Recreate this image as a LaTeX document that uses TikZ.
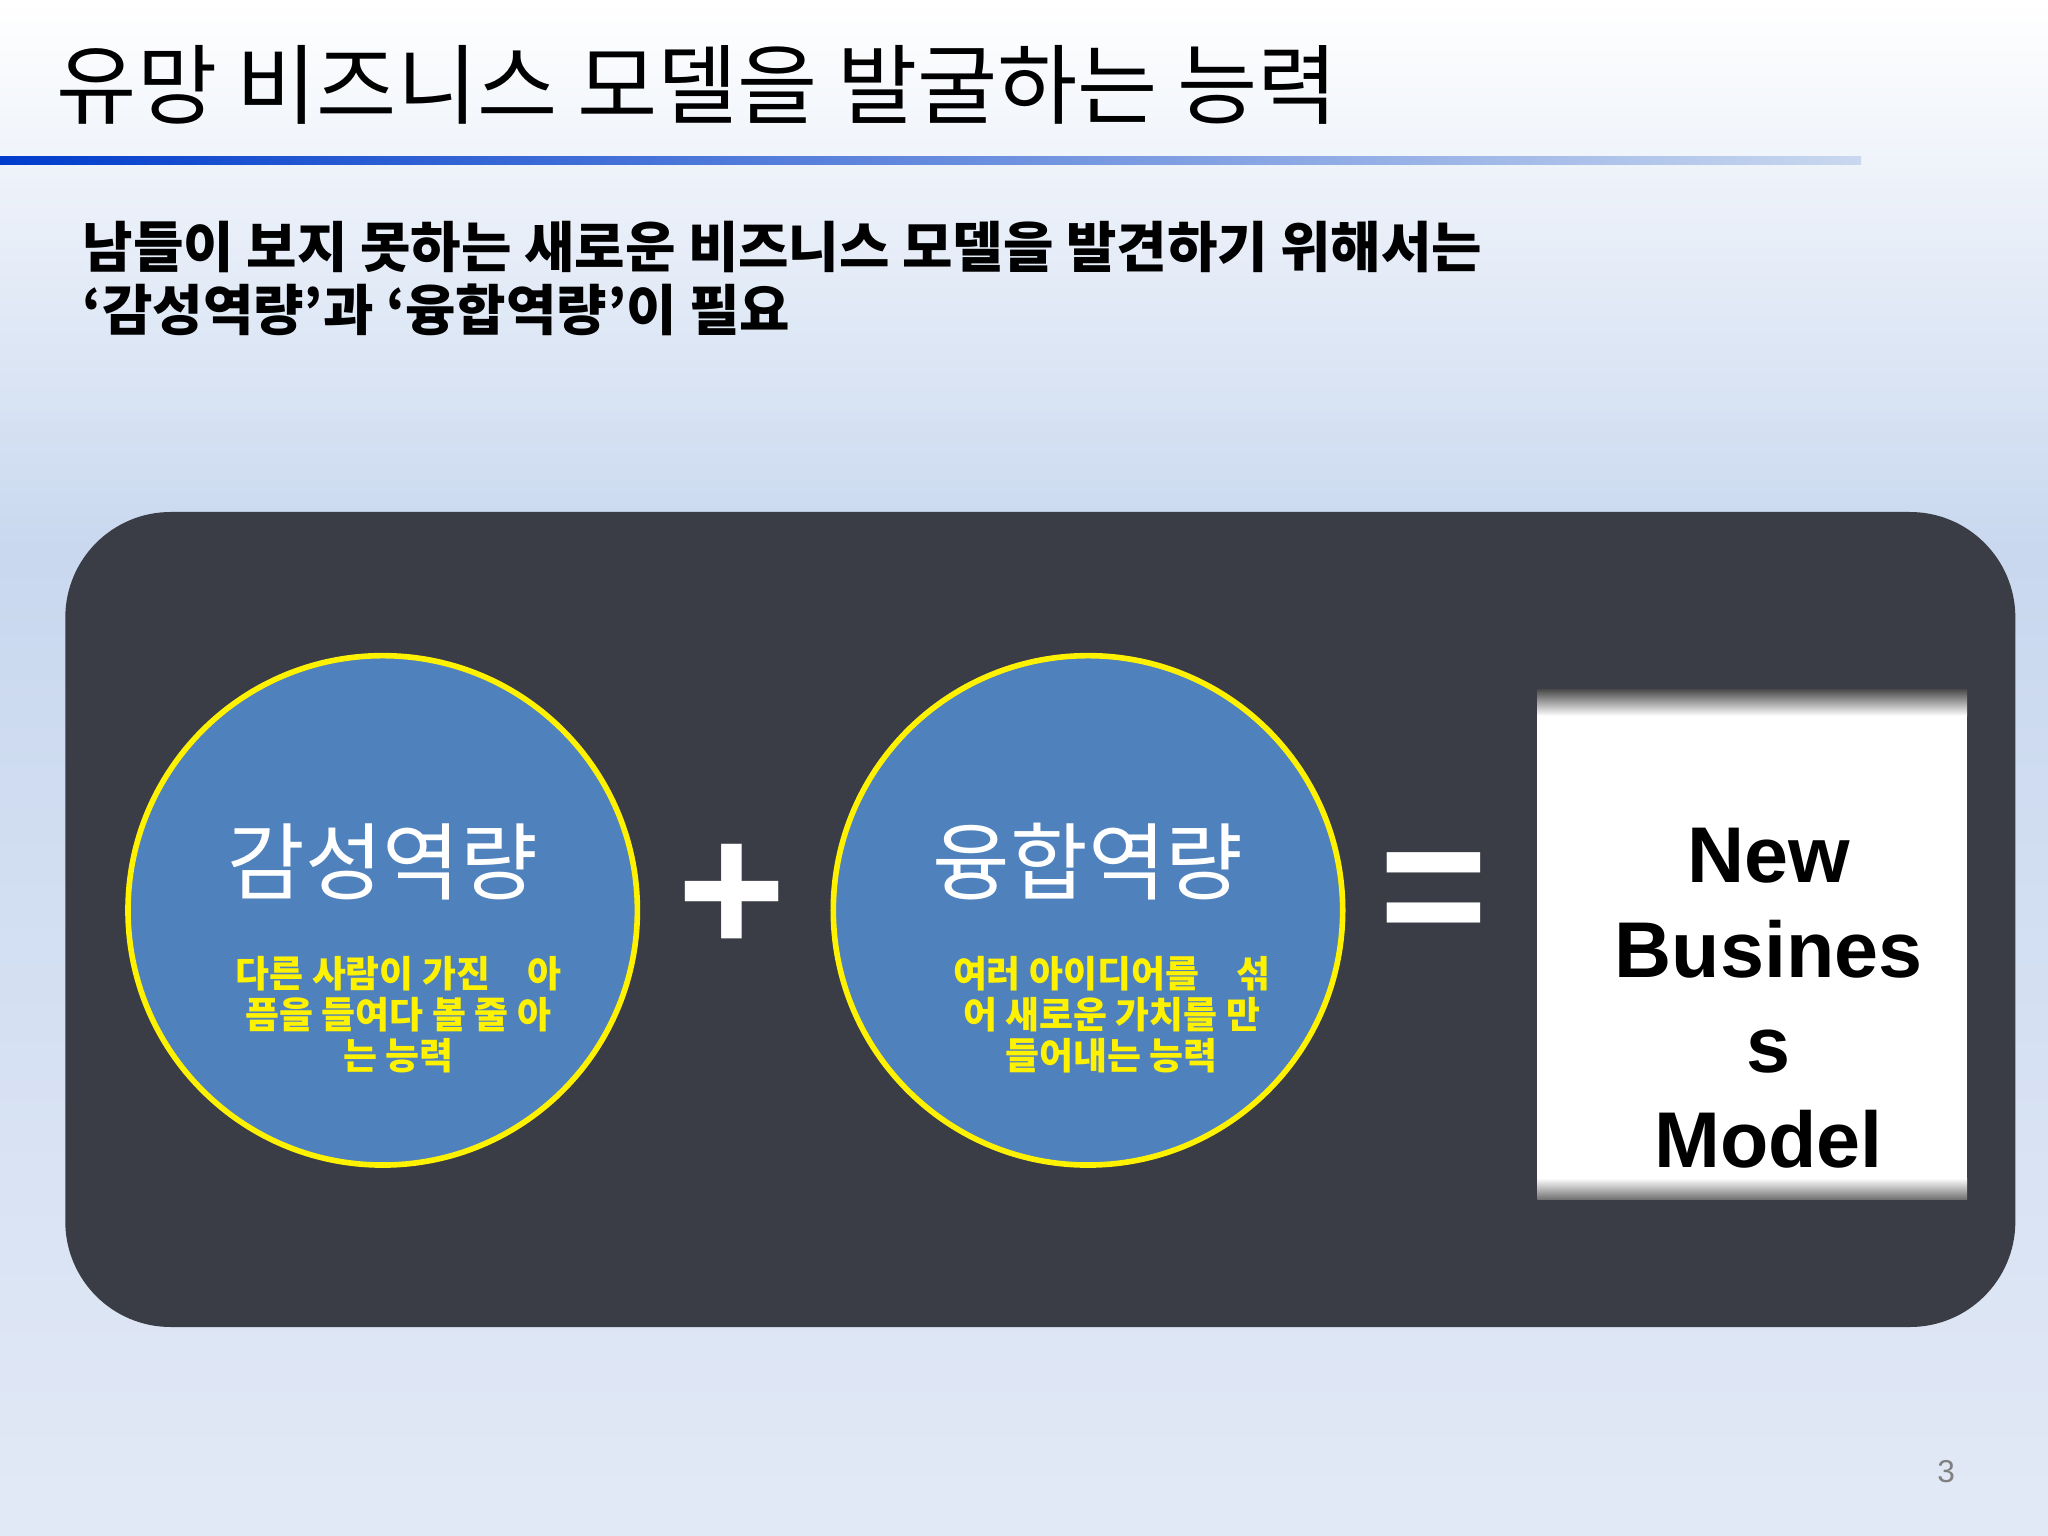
\documentclass[tikz,border=0pt]{standalone}
\usepackage{fontspec}
\newfontfamily\kr{Noto Sans CJK KR}
\setmainfont{Liberation Sans}
\begin{document}
\begin{tikzpicture}[x=0.013061cm,y=-0.013061cm]
\definecolor{bgtop}{HTML}{FFFFFF}
\definecolor{bgmid}{HTML}{C9D8EF}
\definecolor{bgbot}{HTML}{E2E9F6}
\definecolor{panel}{HTML}{3A3D45}
\definecolor{cblue}{HTML}{4F81BD}
\tikzset{
  circ/.style={circle,draw=yellow,line width=1.6pt,fill=cblue,minimum size={390*0.013061cm},inner sep=0pt},
  head/.style={text=white,font=\kr\fontsize{24}{28}\selectfont},
  small/.style={text=yellow,font=\kr\bfseries\fontsize{10.5}{11.6}\selectfont,align=center},
  nbm/.style={font=\bfseries\fontsize{22.5}{27}\selectfont,align=center},
  sym/.style={text=white,font=\bfseries\fontsize{53}{53}\selectfont}
}
\useasboundingbox (0,0) rectangle (1568,1176);
\shade[top color=bgtop,bottom color=bgmid] (0,0) rectangle (1568,420);
\shade[top color=bgmid,bottom color=bgbot] (0,420) rectangle (1568,1176);
\shade[left color=blue!70!cyan!80!black,right color=bgmid] (0,120) rectangle (1425,126);
\node[anchor=west,font=\kr\fontsize{24.8}{28}\selectfont] (title) at (34,65) {유망 비즈니스 모델을 발굴하는 능력};
\node[anchor=north west,align=left,font=\kr\bfseries\fontsize{15.6}{18}\selectfont] (sub) at (54,160) {남들이 보지 못하는 새로운 비즈니스 모델을 발견하기 위해서는\\‘감성역량’과 ‘융합역량’이 필요};
\fill[panel,rounded corners=30pt] (50,392) rectangle (1543,1016);
\node[circ] (c1) at (293,697) {};
\node[head] (h1) at (293,660) {감성역량};
\node[small] (t1) at (305,777) {다른 사람이 가진\quad 아\\픔을 들여다 볼 줄 아\\는 능력};
\node[circ] (c2) at (833,697) {};
\node[head] (h2) at (833,660) {융합역량};
\node[small] (t2) at (851,777) {여러 아이디어를\quad 섞\\어 새로운 가치를 만\\들어내는 능력};
\node[sym] (plus) at (560,688) {+};
\node[sym] (eq) at (1098,690) {=};
\fill[white] (1177,530) rectangle (1506,917);
\shade[top color=black!70,bottom color=white] (1177,528) rectangle (1506,548);
\shade[top color=white,bottom color=black!55] (1177,902) rectangle (1506,918);
\node[nbm] (nb) at (1354,764) {New\\Busines\\s\\Model};
\node[text=black!50,font=\fontsize{9}{10}\selectfont] (pg) at (1490,1127) {3};
\end{tikzpicture}
\end{document}
